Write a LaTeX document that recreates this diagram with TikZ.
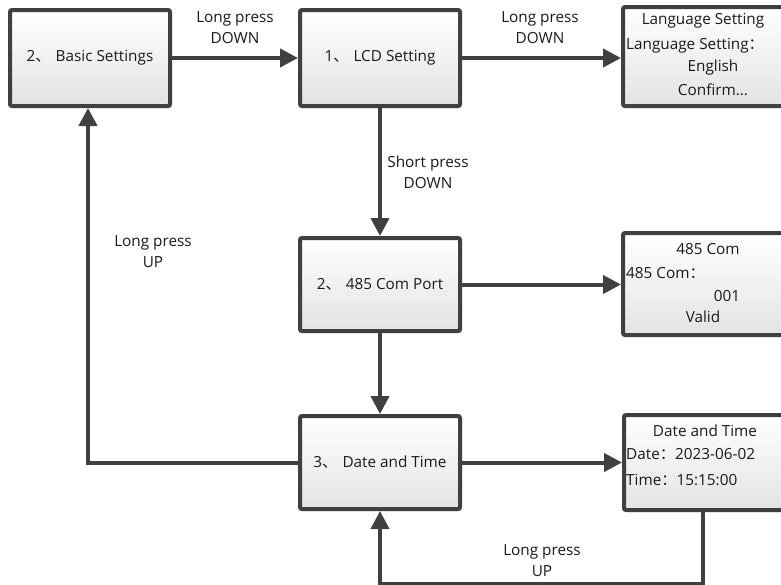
\documentclass[tikz,border=0pt]{standalone}
\usepackage{fontspec}
\setmainfont{Open Sans}
\newfontfamily\cjk{Noto Sans CJK SC}
\usetikzlibrary{arrows.meta,shadows,calc}
\definecolor{dk}{HTML}{404040}
\definecolor{tx}{HTML}{1A1A1A}
\newcommand{\dun}{{\cjk 、}\hspace{5pt}}
\newcommand{\fcol}{{\cjk ：}}
\newcommand{\fs}{\fontsize{15.3pt}{21pt}\selectfont}
\begin{document}
\begin{tikzpicture}[x=1pt,y=-1pt,
  box/.style={draw=dk, line width=4pt, rounded corners=2pt,
    top color=white, bottom color=black!11,
    drop shadow={opacity=0.18, shadow xshift=2pt, shadow yshift=-2pt},
    minimum width=160pt, minimum height=96pt, inner sep=0pt,
    text=tx, font=\fs},
  disp/.style={box, minimum width=170pt},
  arr/.style={draw=dk, line width=4pt, -{Triangle[length=18pt,width=18pt]}},
  lbl/.style={text=tx, font=\fs, align=center, inner sep=0pt},
  txt/.style={text=tx, font=\fs, inner sep=0pt}]
\useasboundingbox (0,0) rectangle (781,584);
\clip (0,0) rectangle (781,584);
\fill[white] (0,0) rectangle (781,584);

% main boxes
\node[box] (basic) at (90,58) {2\dun Basic Settings};
\node[box] (lcd) at (380,58) {1\dun LCD Setting};
\node[box, minimum height=93pt] (com) at (380,284.5) {2\dun 485 Com Port};
\node[box, minimum height=93pt] (dt) at (380,462.5) {3\dun Date and Time};

% display boxes
\node[disp, minimum height=99pt] (lang) at (708,56.5) {};
\node[disp, minimum height=102pt] (comd) at (708,284) {};
\node[disp, minimum height=95pt] (dtd) at (709,462.5) {};

% display texts
\node[txt] (l1) at (703,21) {Language Setting};
\node[txt, anchor=west] (l2) at (626,46) {Language Setting\fcol};
\node[txt] (l3) at (713,68) {English};
\node[txt] (l4) at (713,90) {Confirm...};

\node[txt] (c1) at (708,249) {485 Com};
\node[txt, anchor=west] (c2) at (626,273) {485 Com\fcol};
\node[txt] (c3) at (727,296) {001};
\node[txt] (c4) at (703,317) {Valid};

\node[txt] (d1) at (705,431) {Date and Time};
\node[txt, anchor=west] (d2) at (626,454) {Date\fcol 2023-06-02};
\node[txt, anchor=west] (d3) at (626,480) {Time\fcol 15:15:00};

% connectors
\draw[arr] (basic.east) -- (lcd.west);
\draw[arr] (lcd.east) -- (lcd.east -| lang.west);
\draw[arr] (lcd.south) -- (com.north);
\draw[arr] (com.east) -- (com.east -| comd.west);
\draw[arr] (com.south) -- (dt.north);
\draw[arr] (dt.east) -- (dt.east -| dtd.west);
\draw[arr] (dt.west) -| ([xshift=-2pt]basic.south);
\coordinate (dout) at (703,0);
\draw[arr] (dout |- dtd.south) -- ($(dout |- dtd.south)+(0,72)$) -| (dt.south);

% labels
\node[lbl] (t1) at (235,27.5) {Long press\\DOWN};
\node[lbl] (t2) at (540,27.5) {Long press\\DOWN};
\node[lbl] (t3) at (428,172) {Short press\\DOWN};
\node[lbl] (t4) at (153,252) {Long press\\UP};
\node[lbl] (t5) at (542,561) {Long press\\UP};
\end{tikzpicture}
\end{document}
